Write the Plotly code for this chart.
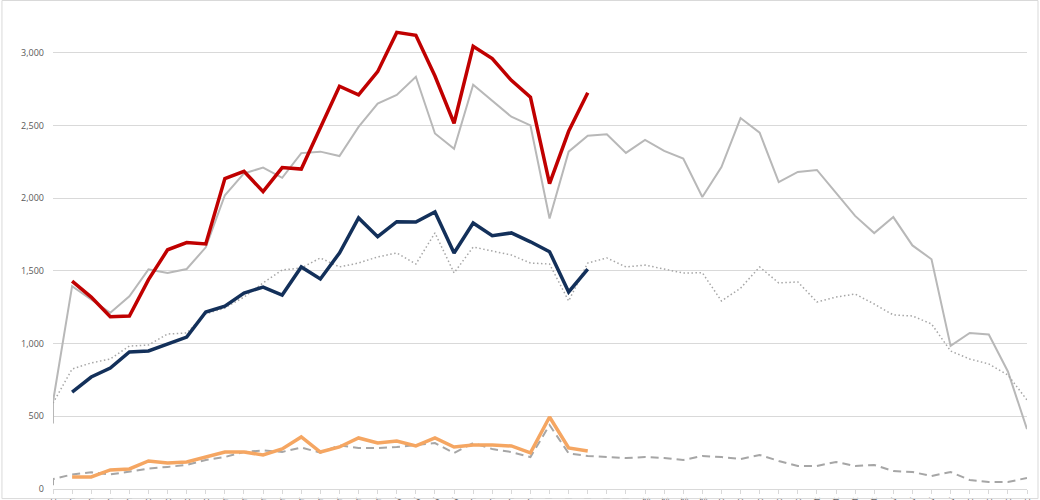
import plotly.graph_objects as go

weeks = ["31-Dec",
         "07-Jan", "14-Jan", "21-Jan", "28-Jan",
         "04-Feb", "11-Feb", "18-Feb", "25-Feb",
         "04-Mar", "11-Mar", "18-Mar", "25-Mar",
         "01-Apr", "08-Apr", "15-Apr", "22-Apr", "29-Apr",
         "06-May", "13-May", "20-May", "27-May",
         "03-Jun", "10-Jun", "17-Jun", "24-Jun",
         "01-Jul", "08-Jul", "15-Jul", "22-Jul", "29-Jul",
         "05-Aug", "12-Aug", "19-Aug", "26-Aug",
         "02-Sep", "09-Sep", "16-Sep", "23-Sep", "30-Sep",
         "07-Oct", "14-Oct", "21-Oct", "28-Oct",
         "04-Nov", "11-Nov", "18-Nov", "25-Nov",
         "02-Dec", "09-Dec", "16-Dec", "23-Dec"]

# Current year (weeks 1..28)
red_vals = [1430, 1320, 1185, 1190, 1440, 1645, 1695, 1685, 2135, 2185,
            2045, 2210, 2200, 2490, 2770, 2710, 2870, 3140, 3120, 2840,
            2515, 3045, 2960, 2810, 2695, 2100, 2460, 2725]
navy_vals = [667, 770, 832, 942, 949, 997, 1045, 1217, 1258, 1348,
             1389, 1334, 1527, 1444, 1623, 1864, 1735, 1838, 1836, 1905,
             1623, 1829, 1742, 1761, 1700, 1632, 1355, 1512]
orange_vals = [83, 83, 131, 138, 193, 179, 186, 220, 254, 254,
               234, 275, 358, 254, 289, 351, 316, 330, 296, 351,
               289, 303, 303, 296, 248, 495, 282, 261]

# Previous year (full year)
grey_solid_start = 450
grey_solid = [600, 1395, 1305, 1212, 1325, 1510, 1486, 1513, 1662, 2020,
              2170, 2210, 2140, 2310, 2320, 2290, 2490, 2650, 2710, 2835,
              2445, 2340, 2780, 2670, 2560, 2500, 1860, 2320, 2430, 2440,
              2311, 2400, 2325, 2272, 2008, 2214, 2551, 2450, 2110, 2180,
              2194, 2036, 1878, 1760, 1870, 1675, 1580, 984, 1073, 1062,
              808, 412]
grey_dotted = [591, 825, 867, 894, 983, 990, 1066, 1073, 1204, 1245,
               1320, 1417, 1506, 1520, 1589, 1527, 1554, 1596, 1623, 1547,
               1761, 1486, 1664, 1637, 1609, 1554, 1547, 1293, 1554, 1589,
               1527, 1540, 1513, 1485, 1487, 1293, 1381, 1527, 1417, 1424,
               1286, 1320, 1341, 1272, 1197, 1190, 1135, 949, 894, 860,
               784, 612]
grey_dashed_start = 25
grey_dashed = [68, 100, 115, 100, 122, 140, 152, 165, 200, 220,
               255, 265, 255, 285, 250, 300, 282, 282, 289, 300,
               316, 248, 316, 275, 254, 220, 440, 245, 227, 220,
               213, 220, 213, 199, 227, 220, 206, 234, 193, 158,
               158, 186, 158, 165, 124, 117, 89, 117, 62, 48,
               48, 76]

ytick_vals = [0, 500, 1000, 1500, 2000, 2500, 3000]

x_cur = weeks[1:1 + len(red_vals)]
x_grey = [weeks[0]] + weeks

fig = go.Figure()
fig.add_trace(go.Scatter(x=x_grey, y=[grey_solid_start] + grey_solid, mode="lines",
                         line=dict(color="#B8B8B8", width=2), name="Prev total"))
fig.add_trace(go.Scatter(x=weeks, y=grey_dotted, mode="lines",
                         line=dict(color="#A6A6A6", width=1.5, dash="1.5px,2.5px"), name="Prev B"))
fig.add_trace(go.Scatter(x=x_grey, y=[grey_dashed_start] + grey_dashed, mode="lines",
                         line=dict(color="#A6A6A6", width=2, dash="8px,5px"), name="Prev C"))
fig.add_trace(go.Scatter(x=x_cur, y=orange_vals, mode="lines",
                         line=dict(color="#F5A662", width=3.5), name="C"))
fig.add_trace(go.Scatter(x=x_cur, y=navy_vals, mode="lines",
                         line=dict(color="#13305A", width=3.5), name="B"))
fig.add_trace(go.Scatter(x=x_cur, y=red_vals, mode="lines",
                         line=dict(color="#C00000", width=3.5), name="Total"))

fig.update_layout(
    width=1040, height=500,
    margin=dict(l=53, r=13, t=10, b=11, autoexpand=False),
    paper_bgcolor="white", plot_bgcolor="white",
    showlegend=False,
    font=dict(family="Open Sans, Liberation Sans, sans-serif", size=9, color="#595959"),
    xaxis=dict(type="category", categoryorder="array", categoryarray=weeks,
               range=[0, len(weeks) - 1], tickangle=-90, showgrid=False,
               ticks="outside", ticklen=4, tickcolor="#D9D9D9",
               showline=True, linecolor="#D9D9D9", linewidth=1,
               automargin=False, tickfont=dict(size=9, color="#595959")),
    yaxis=dict(range=[0, 3294], tickvals=ytick_vals, tickformat=",",
               showgrid=True, gridcolor="#D9D9D9", gridwidth=1,
               zeroline=False, showline=False, automargin=False,
               ticklabelstandoff=8, tickfont=dict(size=9, color="#595959")),
    shapes=[dict(type="rect", xref="paper", yref="paper",
                 x0=-0.0524, x1=1.0113, y0=-0.02, y1=1.0198,
                 line=dict(color="#D9D9D9", width=1))],
)

fig.write_html("out.html")
